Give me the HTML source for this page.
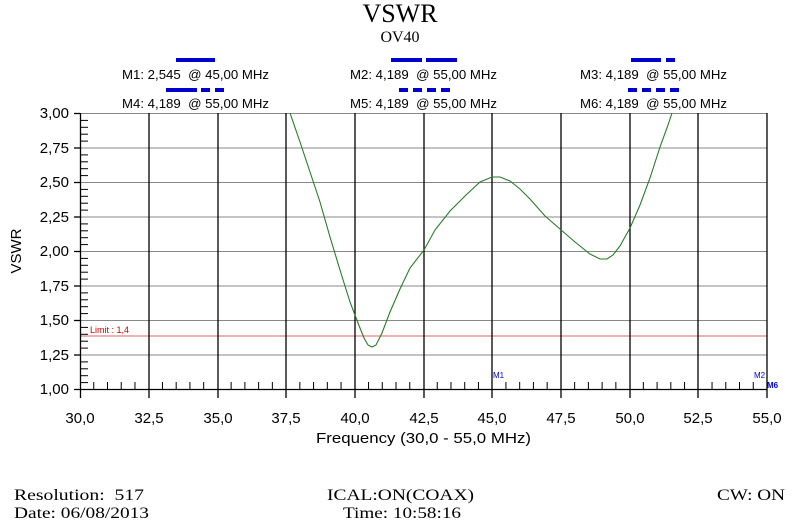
<!DOCTYPE html>
<html><head><meta charset="utf-8"><style>
body{margin:0;background:#fff;width:799px;height:522px;overflow:hidden}
text{white-space:pre}
</style></head><body>
<svg width="799" height="522" xmlns="http://www.w3.org/2000/svg" font-family="Liberation Sans, sans-serif" xml:space="preserve">
<text x="400" y="22" font-family="Liberation Serif, serif" font-size="26" text-anchor="middle">VSWR</text>
<text x="400" y="42" font-family="Liberation Serif, serif" font-size="16" text-anchor="middle">OV40</text>
<g fill="#0000cc">
<rect x="176" y="58" width="39" height="4"/>
<rect x="166" y="88" width="31" height="4"/><rect x="201" y="88" width="9" height="4"/><rect x="215" y="88" width="9" height="4"/>
<rect x="391" y="58" width="31" height="4"/><rect x="426" y="58" width="31" height="4"/>
<rect x="399" y="88" width="9" height="4"/><rect x="413" y="88" width="9" height="4"/><rect x="427" y="88" width="9" height="4"/><rect x="441" y="88" width="9" height="4"/>
<rect x="631" y="58" width="30" height="4"/><rect x="666" y="58" width="9" height="4"/>
<rect x="628" y="88" width="9" height="4"/><rect x="642" y="88" width="9" height="4"/><rect x="656" y="88" width="9" height="4"/><rect x="670" y="88" width="9" height="4"/>
</g>
<g font-size="13" fill="#000">
<text x="122" y="79" textLength="147" lengthAdjust="spacingAndGlyphs">M1: 2,545  @ 45,00 MHz</text>
<text x="122" y="108" textLength="147" lengthAdjust="spacingAndGlyphs">M4: 4,189  @ 55,00 MHz</text>
<text x="350" y="79" textLength="147" lengthAdjust="spacingAndGlyphs">M2: 4,189  @ 55,00 MHz</text>
<text x="350" y="108" textLength="147" lengthAdjust="spacingAndGlyphs">M5: 4,189  @ 55,00 MHz</text>
<text x="580" y="79" textLength="147" lengthAdjust="spacingAndGlyphs">M3: 4,189  @ 55,00 MHz</text>
<text x="580" y="108" textLength="147" lengthAdjust="spacingAndGlyphs">M6: 4,189  @ 55,00 MHz</text>
</g>
<g stroke="#888" stroke-width="1">
<line x1="80" y1="113.5" x2="767" y2="113.5"/><line x1="80" y1="148" x2="767" y2="148"/><line x1="80" y1="182.5" x2="767" y2="182.5"/><line x1="80" y1="217" x2="767" y2="217"/><line x1="80" y1="251.5" x2="767" y2="251.5"/><line x1="80" y1="286" x2="767" y2="286"/><line x1="80" y1="320.5" x2="767" y2="320.5"/><line x1="80" y1="355" x2="767" y2="355"/>
</g>
<line x1="80" y1="336" x2="767" y2="336" stroke="#d66" stroke-width="1"/>
<text x="90" y="333" font-size="9" fill="#c00">Limit : 1,4</text>
<g stroke="#000" stroke-width="1.3">
<line x1="80.5" y1="113" x2="80.5" y2="398"/>
<line x1="149" y1="113" x2="149" y2="398"/><line x1="218" y1="113" x2="218" y2="398"/><line x1="286" y1="113" x2="286" y2="398"/><line x1="355" y1="113" x2="355" y2="398"/><line x1="424" y1="113" x2="424" y2="398"/><line x1="492" y1="113" x2="492" y2="398"/><line x1="561" y1="113" x2="561" y2="398"/><line x1="630" y1="113" x2="630" y2="398"/><line x1="698" y1="113" x2="698" y2="398"/><line x1="767" y1="113" x2="767" y2="398"/>
<line x1="74" y1="389.5" x2="767" y2="389.5"/>
<line x1="74" y1="113.5" x2="80" y2="113.5"/><line x1="74" y1="148" x2="80" y2="148"/><line x1="74" y1="182.5" x2="80" y2="182.5"/><line x1="74" y1="217" x2="80" y2="217"/><line x1="74" y1="251.5" x2="80" y2="251.5"/><line x1="74" y1="286" x2="80" y2="286"/><line x1="74" y1="320.5" x2="80" y2="320.5"/><line x1="74" y1="355" x2="80" y2="355"/>
</g>
<g stroke="#000" stroke-width="1" id="ticks"></g>
<polyline fill="none" stroke="#2a7a2a" stroke-width="1.1" points="290,113 300,142 310,172 320,202 330,237 340,270 350,302 358,323 364,338 368,345 372,347 376,345 382,333 390,312 400,289 410,268 424,250 435,230 450,211 465,196 480,182 492,177 500,177 510,181 520,189 530,199 545,216 560,229 575,242 590,254 600,259 607,259 613,255 620,246 630,228 640,205 650,178 660,147 668,125 672,113"/>
<text x="493" y="378" font-size="8" fill="#0000cc">M1</text>
<text x="754" y="378" font-size="8" fill="#0000cc">M2</text>
<text x="767" y="388" font-size="8" fill="#0000cc" font-weight="bold">M6</text>
<g font-size="15" text-anchor="end">
<text x="69" y="118">3,00</text><text x="69" y="153">2,75</text><text x="69" y="187">2,50</text><text x="69" y="222">2,25</text><text x="69" y="256">2,00</text><text x="69" y="291">1,75</text><text x="69" y="325">1,50</text><text x="69" y="360">1,25</text><text x="69" y="394">1,00</text>
</g>
<g font-size="15" text-anchor="middle">
<text x="80" y="423">30,0</text><text x="149" y="423">32,5</text><text x="218" y="423">35,0</text><text x="286" y="423">37,5</text><text x="355" y="423">40,0</text><text x="424" y="423">42,5</text><text x="492" y="423">45,0</text><text x="561" y="423">47,5</text><text x="630" y="423">50,0</text><text x="698" y="423">52,5</text><text x="767" y="423">55,0</text>
</g>
<text x="316" y="443" font-size="15" textLength="215" lengthAdjust="spacingAndGlyphs">Frequency (30,0 - 55,0 MHz)</text>
<text x="21" y="251" font-size="15" text-anchor="middle" transform="rotate(-90 21 251)">VSWR</text>
<g font-family="Liberation Serif, serif" font-size="16">
<text x="14" y="500" textLength="130" lengthAdjust="spacingAndGlyphs">Resolution:  517</text>
<text x="14" y="518" textLength="135" lengthAdjust="spacingAndGlyphs">Date: 06/08/2013</text>
<text x="327" y="500" textLength="147" lengthAdjust="spacingAndGlyphs">ICAL:ON(COAX)</text>
<text x="343" y="518" textLength="118" lengthAdjust="spacingAndGlyphs">Time: 10:58:16</text>
<text x="717" y="500" textLength="68" lengthAdjust="spacingAndGlyphs">CW: ON</text>
</g>
</svg>
<script>
var g=document.getElementById('ticks'),s='';
for(var i=0;i<10;i++){var x0=80+i*68.7;for(var k=1;k<5;k++){var x=x0+k*13.74;s+='<line x1="'+x+'" y1="382" x2="'+x+'" y2="389" stroke="#000"/>';}}
for(var i=0;i<8;i++){var y0=113.5+i*34.5;for(var k=1;k<5;k++){var y=y0+k*6.9;s+='<line x1="80" y1="'+y+'" x2="88" y2="'+y+'" stroke="#000"/>';}}
g.innerHTML=s;
</script>
</body></html>
